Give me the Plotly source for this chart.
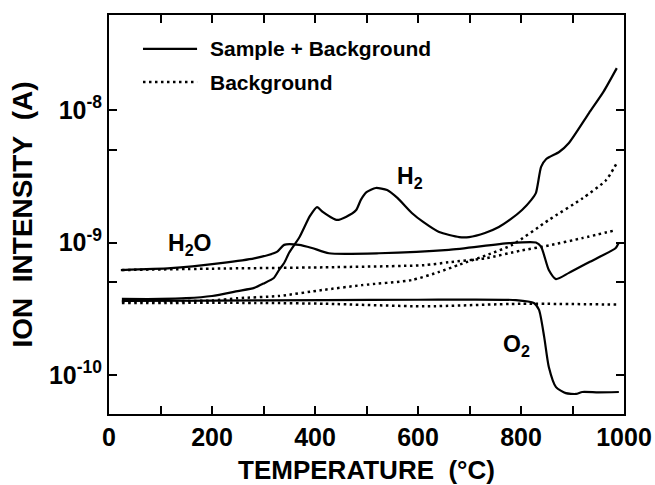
import numpy as np
import plotly.graph_objects as go

# ---------------- data ----------------
h2_T = [25, 100, 150, 200, 250, 282, 300, 320, 330, 340, 350, 370, 390, 404, 415, 430,
        443, 460, 480, 489, 500, 518, 540, 560, 588, 610, 641, 680, 699, 730, 757, 780,
        802, 820, 829, 839, 849, 874, 893, 932, 960, 986]
h2_I = [3.75e-10, 3.75e-10, 3.8e-10, 3.95e-10, 4.3e-10, 4.55e-10, 4.9e-10, 5.4e-10,
        6.2e-10, 7.0e-10, 8.4e-10, 1.1e-9, 1.58e-9, 1.85e-9, 1.70e-9, 1.56e-9,
        1.48e-9, 1.56e-9, 1.76e-9, 2.1e-9, 2.4e-9, 2.58e-9, 2.49e-9, 2.17e-9,
        1.67e-9, 1.43e-9, 1.20e-9, 1.10e-9, 1.10e-9, 1.18e-9, 1.31e-9, 1.5e-9,
        1.76e-9, 2.1e-9, 2.37e-9, 3.72e-9, 4.27e-9, 4.82e-9, 5.64e-9, 9.49e-9,
        1.37e-8, 2.07e-8]

h2_bg_T = [25, 100, 200, 250, 330, 414, 491, 588, 641, 680, 732, 783, 854, 919, 965, 986]
h2_bg_I = [3.6e-10, 3.6e-10, 3.65e-10, 3.8e-10, 3.95e-10, 4.38e-10, 4.77e-10, 5.21e-10,
           6.0e-10, 6.8e-10, 8.0e-10, 9.6e-10, 1.48e-9, 2.15e-9, 2.95e-9, 3.98e-9]

h2o_T = [23, 120, 217, 282, 326, 340, 369, 394, 427, 524, 660, 777, 829, 839, 854, 868,
         893, 932, 984, 990]
h2o_I = [6.2e-10, 6.4e-10, 7.0e-10, 7.6e-10, 8.5e-10, 9.6e-10, 9.6e-10, 9.1e-10,
         8.3e-10, 8.3e-10, 8.8e-10, 9.9e-10, 1.0e-9, 9.3e-10, 6.2e-10, 5.3e-10,
         5.9e-10, 7.1e-10, 9.1e-10, 1.0e-9]

h2o_bg_T = [25, 200, 417, 612, 660, 730, 800, 854, 919, 984]
h2o_bg_I = [6.2e-10, 6.35e-10, 6.5e-10, 6.75e-10, 7.1e-10, 7.6e-10, 8.7e-10, 9.5e-10,
            1.08e-9, 1.24e-9]

o2_T = [25, 200, 417, 600, 790, 825, 835, 845, 854, 868, 887, 907, 919, 950, 990]
o2_I = [3.62e-10, 3.65e-10, 3.68e-10, 3.7e-10, 3.68e-10, 3.5e-10, 3.1e-10, 1.94e-10,
        1.15e-10, 8.1e-11, 7.3e-11, 7.2e-11, 7.45e-11, 7.4e-11, 7.45e-11]

o2_bg_T = [25, 300, 420, 612, 800, 990]
o2_bg_I = [3.5e-10, 3.5e-10, 3.45e-10, 3.3e-10, 3.45e-10, 3.4e-10]

x_tickvals = [0, 100, 200, 300, 400, 500, 600, 700, 800, 900, 1000]
x_ticktext = ["0", "", "200", "", "400", "", "600", "", "800", "", "1000"]
y_tickvals = [1e-10, 5e-10, 1e-9, 5e-9, 1e-8]
y_ticktext = ["10<sup>-10</sup>", "", "10<sup>-9</sup>", "", "10<sup>-8</sup>"]

labels = [("H<sub>2</sub>O", 157, 9.6e-10), ("H<sub>2</sub>", 584, 3.07e-9),
          ("O<sub>2</sub>", 792, 1.66e-10)]
legend_names = ["Sample + Background", "Background"]

# ---------------- figure ----------------
FONT = "Liberation Sans, Arial, sans-serif"
solid = dict(color="black", width=2.2)
dotted = dict(color="black", width=2.5, dash="2.5px,3.5px")

fig = go.Figure()
for T, I, ln in [(h2_T, h2_I, solid), (h2o_T, h2o_I, solid), (o2_T, o2_I, solid),
                 (h2_bg_T, h2_bg_I, dotted), (h2o_bg_T, h2o_bg_I, dotted),
                 (o2_bg_T, o2_bg_I, dotted)]:
    fig.add_trace(go.Scatter(x=T, y=I, mode="lines", line=dict(ln, shape="spline", smoothing=0.6),
                             showlegend=False, hoverinfo="skip"))

for txt, xv, yv in labels:
    fig.add_annotation(x=xv, y=np.log10(yv), xref="x", yref="y", text=txt, showarrow=False,
                       font=dict(family=FONT, size=23, color="black", weight="bold"))

# manual legend (line samples + text) in plot-area coordinates
for i, (name, ln) in enumerate(zip(legend_names, [solid, dotted])):
    yy = 0.915 - i * 0.083
    fig.add_shape(type="line", xref="paper", yref="paper", x0=0.066, x1=0.171, y0=yy, y1=yy,
                  line=ln)
    fig.add_annotation(x=0.192, y=yy, xref="paper", yref="paper", text=name, showarrow=False,
                       xanchor="left", yanchor="middle",
                       font=dict(family=FONT, size=21, color="black", weight="bold"))

axis_common = dict(showline=True, linewidth=2, linecolor="black", mirror="allticks",
                   ticks="inside", ticklen=8, tickwidth=2, tickcolor="black",
                   showgrid=False, zeroline=False, automargin=False,
                   tickfont=dict(family=FONT, size=25, color="black", weight="bold"))

fig.update_xaxes(range=[0, 1000], tickmode="array", tickvals=x_tickvals, ticktext=x_ticktext,
                 title=dict(text="TEMPERATURE\u00a0\u00a0(°C)",
                            font=dict(family=FONT, size=26, color="black", weight="bold"),
                            standoff=14),
                 **axis_common)
fig.update_yaxes(type="log", range=[-10.294, -7.283], tickmode="array", tickvals=y_tickvals,
                 ticktext=y_ticktext,
                 title=dict(text="ION\u00a0\u00a0INTENSITY\u00a0\u00a0(A)",
                            font=dict(family=FONT, size=28, color="black", weight="bold"),
                            standoff=8),
                 **axis_common)

fig.update_layout(width=655, height=485, margin=dict(l=109, r=31, t=15, b=71),
                  paper_bgcolor="white", plot_bgcolor="white", showlegend=False)

fig.write_html("out.html")
